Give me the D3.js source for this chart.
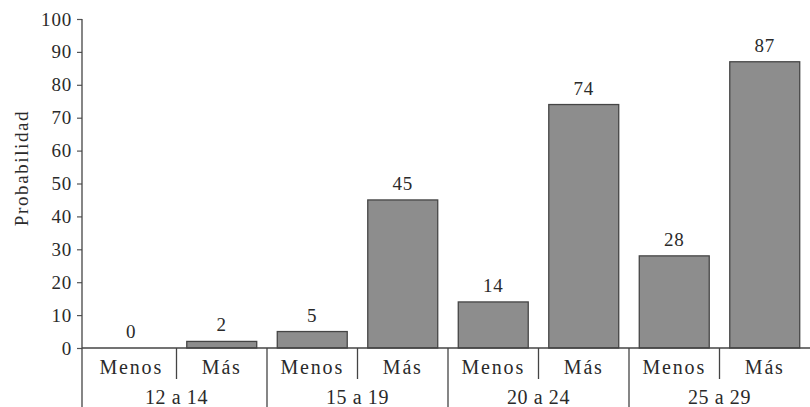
<!DOCTYPE html>
<html><head><meta charset="utf-8">
<script src="https://cdn.jsdelivr.net/npm/d3@7"></script>
<style>body{margin:0;background:#fff}svg{display:block}</style>
</head><body>
<svg id="c" width="810" height="407"></svg>
<script>
const groups = ["12 a 14", "15 a 19", "20 a 24", "25 a 29"];
const subs = ["Menos", "Más"];
const menosValues = [0, 5, 14, 28];
const masValues = [2, 45, 74, 87];
const yTicks = [0,10,20,30,40,50,60,70,80,90,100];
const yTitle = "Probabilidad";

const data = [];
groups.forEach((g,i)=>{
  data.push({group:g, sub:subs[0], value:menosValues[i], key:g+"|Menos"});
  data.push({group:g, sub:subs[1], value:masValues[i], key:g+"|Más"});
});

const svg = d3.select("#c");
const font = "Liberation Serif, DejaVu Serif, serif";
const axisX = 82, mLeft = 86, mRight = 810, mTop = 19, mBottom = 348;
const ink = "#2a2a2a";

const x = d3.scaleBand().domain(data.map(d=>d.key)).range([mLeft, mRight]).paddingInner(0.227).paddingOuter(0.1135);
const xg = d3.scaleBand().domain(groups).range([mLeft, mRight]);
const y = d3.scaleLinear().domain([0,100]).range([mBottom, mTop]);

// bars
svg.append("g").selectAll("rect").data(data.filter(d=>d.value>0)).join("rect")
  .attr("x", d=>x(d.key)).attr("width", x.bandwidth())
  .attr("y", d=>y(d.value)).attr("height", d=>y(0)-y(d.value))
  .attr("fill", "#8d8d8d").attr("stroke", "#454545").attr("stroke-width", 1.3);

// value labels
svg.append("g").selectAll("text").data(data).join("text")
  .attr("x", d=>x(d.key)+x.bandwidth()/2)
  .attr("y", d=>y(d.value)-10)
  .attr("text-anchor","middle")
  .style("font-family", font).style("font-size", "19px").attr("letter-spacing", 0.8).attr("fill",ink)
  .text(d=>d.value);

// y axis
const yAxis = d3.axisLeft(y).tickValues(yTicks).tickSize(5).tickPadding(5);
const ya = svg.append("g").attr("transform", `translate(${axisX},0)`).call(yAxis);
ya.select(".domain").remove();
ya.selectAll(".tick line").attr("stroke","#555").attr("stroke-width",1.2);
ya.selectAll(".tick text").style("font-family", font).style("font-size", "19px")
  .attr("letter-spacing", 0.8).attr("fill",ink);
svg.append("line").attr("x1",axisX).attr("x2",axisX).attr("y1",mTop).attr("y2",407)
  .attr("stroke","#444").attr("stroke-width",1.3);

// x baseline
svg.append("line").attr("x1",axisX).attr("x2",mRight).attr("y1",mBottom).attr("y2",mBottom)
  .attr("stroke","#444").attr("stroke-width",1.3);

// group dividers
svg.append("g").selectAll("line").data(groups.slice(1)).join("line")
  .attr("x1", d=>xg(d)).attr("x2", d=>xg(d)).attr("y1", mBottom).attr("y2", 407)
  .attr("stroke","#444").attr("stroke-width",1.3);
// sub dividers
svg.append("g").selectAll("line").data(groups).join("line")
  .attr("x1", d=>xg(d)+xg.bandwidth()/2).attr("x2", d=>xg(d)+xg.bandwidth()/2)
  .attr("y1", mBottom).attr("y2", 379)
  .attr("stroke","#444").attr("stroke-width",1.3);

// sub labels
svg.append("g").selectAll("text").data(data).join("text")
  .attr("x", d=>x(d.key)+x.bandwidth()/2).attr("y", 374)
  .attr("text-anchor","middle").style("font-family", font).style("font-size", "20px")
  .attr("letter-spacing", 1.8).attr("fill",ink)
  .text(d=>d.sub);
// group labels
svg.append("g").selectAll("text").data(groups).join("text")
  .attr("x", d=>xg(d)+xg.bandwidth()/2).attr("y", 404)
  .attr("text-anchor","middle").style("font-family", font).style("font-size", "20px")
  .attr("letter-spacing", 0.6).attr("fill",ink)
  .text(d=>d);

// y title
svg.append("text").attr("transform","translate(28,168) rotate(-90)")
  .attr("text-anchor","middle").style("font-family", font).style("font-size", "19px")
  .attr("letter-spacing", 1.6).attr("fill",ink)
  .text(yTitle);
</script>
</body></html>
